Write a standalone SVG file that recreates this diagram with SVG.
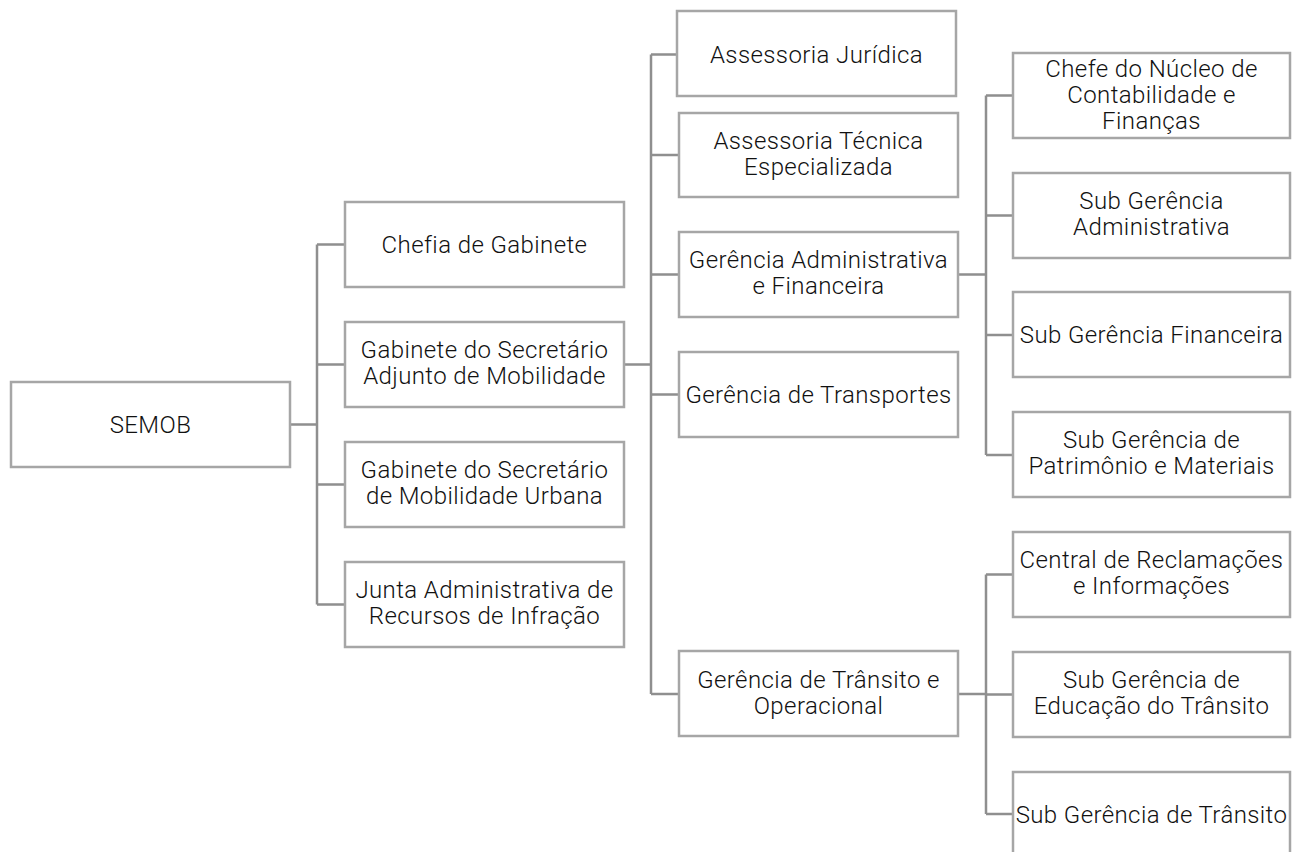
<svg xmlns="http://www.w3.org/2000/svg" width="1292" height="852" viewBox="0 0 1292 852">
<style>
.box{fill:#fff;stroke:#a6a6a6;stroke-width:2.5}
.lbl{font-family:Roboto,"Liberation Sans",sans-serif;font-size:24px;font-weight:300;letter-spacing:0.4px;fill:#111;text-anchor:middle}
.con{fill:none;stroke:#8f8f8f;stroke-width:2.5}
</style>
<rect width="1292" height="852" fill="#fff"/>
<g id="connectors" class="con">
<path d="M290 424.5H317M317 244.5V604.5M317 244.5H345M317 364.5H345M317 484.5H345M317 604.5H345"/>
<path d="M624 364.5H651M651 54.5V694M651 54.5H677M651 155H679M651 274.5H679M651 394.5H679M651 694H679"/>
<path d="M958 274.5H986M986 95.5V455M986 95.5H1013M986 215.5H1013M986 335H1013M986 455H1013"/>
<path d="M958 694H986M986 574.5V814M986 574.5H1013M986 694.5H1013M986 814H1013"/>
</g>
<g id="semob"><rect class="box" x="11" y="382" width="279" height="85"/><text class="lbl" x="150.5" y="433">SEMOB</text></g>
<g id="chefia"><rect class="box" x="345" y="202" width="279" height="85"/><text class="lbl" x="484.5" y="253">Chefia de Gabinete</text></g>
<g id="gab-adjunto"><rect class="box" x="345" y="322" width="279" height="85"/><text class="lbl" x="484.5" y="358">Gabinete do Secretário</text><text class="lbl" x="484.5" y="384">Adjunto de Mobilidade</text></g>
<g id="gab-secretario"><rect class="box" x="345" y="442" width="279" height="85"/><text class="lbl" x="484.5" y="478">Gabinete do Secretário</text><text class="lbl" x="484.5" y="504">de Mobilidade Urbana</text></g>
<g id="junta"><rect class="box" x="345" y="562" width="279" height="85"/><text class="lbl" x="484.5" y="598">Junta Administrativa de</text><text class="lbl" x="484.5" y="624">Recursos de Infração</text></g>
<g id="ass-juridica"><rect class="box" x="677" y="11" width="279" height="85"/><text class="lbl" x="816.5" y="63">Assessoria Jurídica</text></g>
<g id="ass-tecnica"><rect class="box" x="679" y="113" width="279" height="84"/><text class="lbl" x="818.5" y="149">Assessoria Técnica</text><text class="lbl" x="818.5" y="175">Especializada</text></g>
<g id="ger-adm"><rect class="box" x="679" y="232" width="279" height="85"/><text class="lbl" x="818.5" y="268">Gerência Administrativa</text><text class="lbl" x="818.5" y="294">e Financeira</text></g>
<g id="ger-transportes"><rect class="box" x="679" y="352" width="279" height="85"/><text class="lbl" x="818.5" y="403">Gerência de Transportes</text></g>
<g id="ger-transito"><rect class="box" x="679" y="651" width="279" height="85"/><text class="lbl" x="818.5" y="688">Gerência de Trânsito e</text><text class="lbl" x="818.5" y="714">Operacional</text></g>
<g id="chefe-nucleo"><rect class="box" x="1013" y="53" width="277" height="85"/><text class="lbl" x="1151.5" y="77">Chefe do Núcleo de</text><text class="lbl" x="1151.5" y="103">Contabilidade e</text><text class="lbl" x="1151.5" y="129">Finanças</text></g>
<g id="sub-adm"><rect class="box" x="1013" y="173" width="277" height="85"/><text class="lbl" x="1151.5" y="209">Sub Gerência</text><text class="lbl" x="1151.5" y="235">Administrativa</text></g>
<g id="sub-fin"><rect class="box" x="1013" y="292" width="277" height="85"/><text class="lbl" x="1151.5" y="343">Sub Gerência Financeira</text></g>
<g id="sub-patrimonio"><rect class="box" x="1013" y="412" width="277" height="85"/><text class="lbl" x="1151.5" y="448">Sub Gerência de</text><text class="lbl" x="1151.5" y="474">Patrimônio e Materiais</text></g>
<g id="central"><rect class="box" x="1013" y="532" width="277" height="85"/><text class="lbl" x="1151.5" y="568">Central de Reclamações</text><text class="lbl" x="1151.5" y="594">e Informações</text></g>
<g id="sub-educacao"><rect class="box" x="1013" y="652" width="277" height="85"/><text class="lbl" x="1151.5" y="688">Sub Gerência de</text><text class="lbl" x="1151.5" y="714">Educação do Trânsito</text></g>
<g id="sub-transito"><rect class="box" x="1013" y="772" width="277" height="85"/><text class="lbl" x="1151.5" y="823">Sub Gerência de Trânsito</text></g>
</svg>
